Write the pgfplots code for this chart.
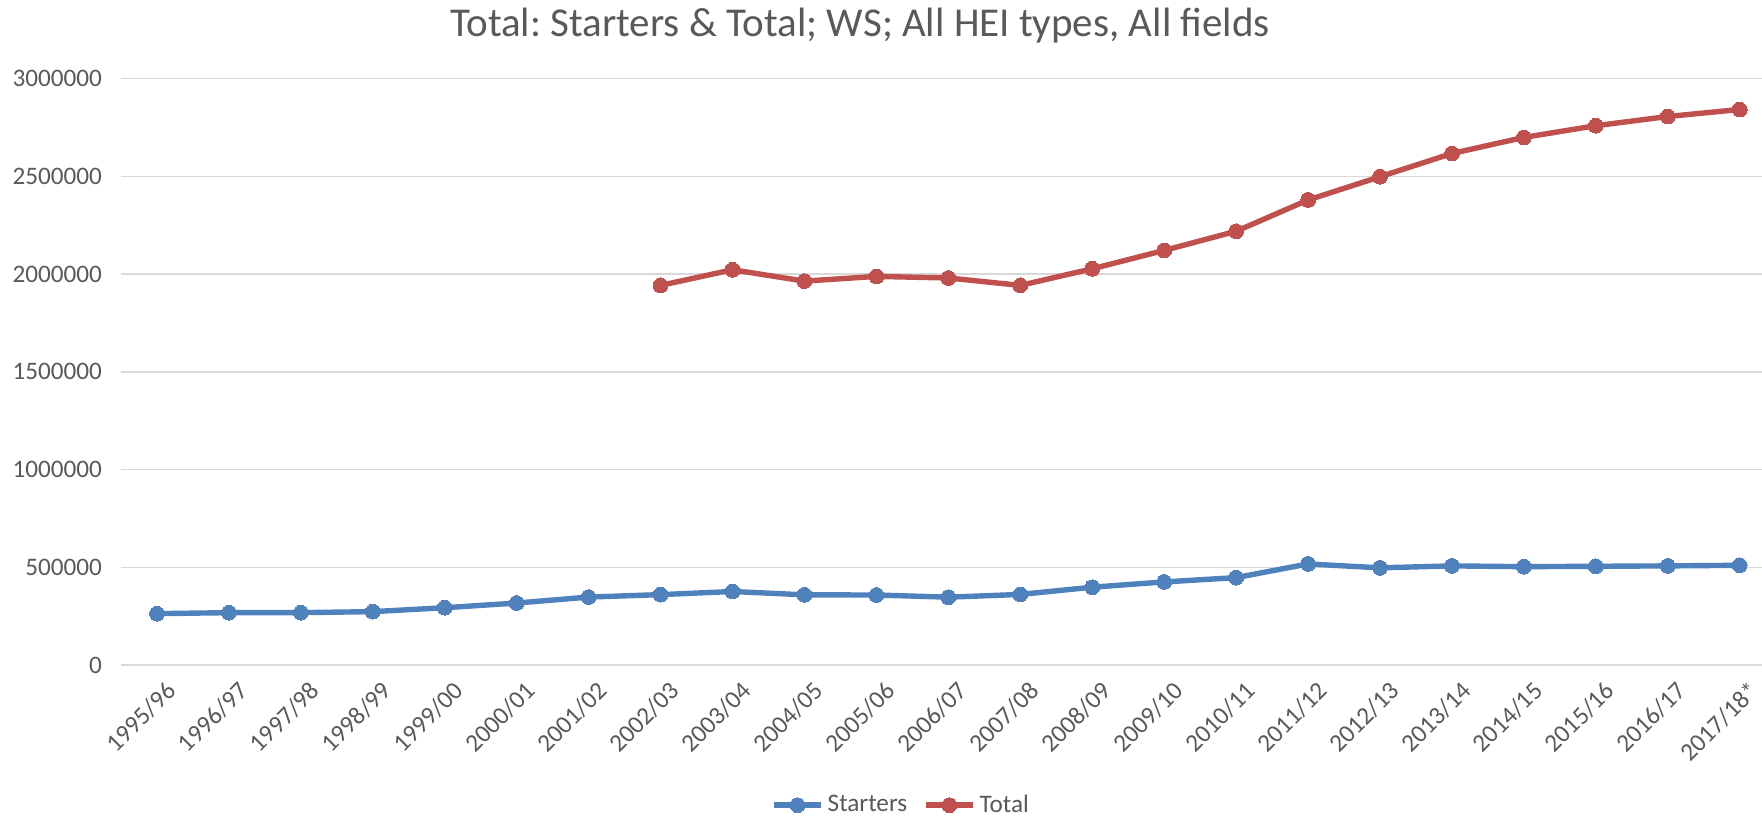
\documentclass[border=0pt]{standalone}
\usepackage{pgfplots}
\pgfplotsset{compat=1.18}
\usepackage{fontspec}
\setmainfont{Carlito}
\frenchspacing
\definecolor{sblue}{HTML}{4F81BD}
\definecolor{tred}{HTML}{C0504D}
\definecolor{gridc}{HTML}{D9D9D9}
\definecolor{txt}{HTML}{595959}
\begin{document}
\begin{tikzpicture}
\useasboundingbox (-60.5pt,-76.5pt) rectangle (820.5pt,332.5pt);
\begin{axis}[
  at={(0pt,0pt)}, anchor=south west,
  scale only axis, width=820.5pt, height=293.2pt,
  xmin=-0.5, xmax=22.31, ymin=0, ymax=3000000,
  axis line style={draw=none},
  major tick length=0pt,
  ymajorgrids, grid style={gridc, line width=0.75pt},
  ytick={0,500000,1000000,1500000,2000000,2500000,3000000},
  scaled y ticks=false,
  /pgf/number format/assume math mode=true,
  yticklabel style={/pgf/number format/fixed,/pgf/number format/1000 sep={}, anchor=east, xshift=-6pt, font=\fontsize{12.6}{14}\selectfont, text=txt},
  xtick={0,...,22},
  xticklabels={1995/96,1996/97,1997/98,1998/99,1999/00,2000/01,2001/02,2002/03,2003/04,2004/05,2005/06,2006/07,2007/08,2008/09,2009/10,2010/11,2011/12,2012/13,2013/14,2014/15,2015/16,2016/17,2017/18*},
  xticklabel style={rotate=45, anchor=north east, font=\fontsize{12.6}{14}\selectfont, text=txt, yshift=-4.5pt, xshift=1pt},
  clip=false,
  legend style={at={(0.476,-0.239)}, anchor=center, draw=none, fill=none, legend columns=2, font=\fontsize{12.6}{14}\selectfont, text=txt, /tikz/every even column/.append style={column sep=6pt}},
  legend image code/.code={\draw[mark repeat=2,mark phase=2] plot coordinates {(0pt,0pt)(11.75pt,0pt)(23.5pt,0pt)};},
]
\addplot[sblue, line width=2.7pt, mark=*, mark size=3.7pt, mark options={solid, fill=sblue, draw=sblue, line width=0pt}] coordinates {
(0,262700)(1,267800)(2,267800)(3,273000)(4,293000)(5,317000)(6,347500)(7,360000)(8,376000)(9,359000)(10,358000)(11,347000)(12,361000)(13,398000)(14,425000)(15,447000)(16,517000)(17,497000)(18,507000)(19,503000)(20,505000)(21,507000)(22,510000)};
\addlegendentry{Starters}
\addplot[tred, line width=2.7pt, mark=*, mark size=3.7pt, mark options={solid, fill=tred, draw=tred, line width=0pt}] coordinates {
(7,1942000)(8,2022000)(9,1964000)(10,1988000)(11,1980000)(12,1942000)(13,2027000)(14,2121000)(15,2219000)(16,2379000)(17,2498000)(18,2617000)(19,2699000)(20,2759000)(21,2806000)(22,2842000)};
\addlegendentry{Total}
\end{axis}
\node[font=\fontsize{20.5}{24}\selectfont, text=txt] at (369.5pt,319.5pt) {Total: Starters \& Total; WS; All HEI types, All fields};
\end{tikzpicture}
\end{document}
